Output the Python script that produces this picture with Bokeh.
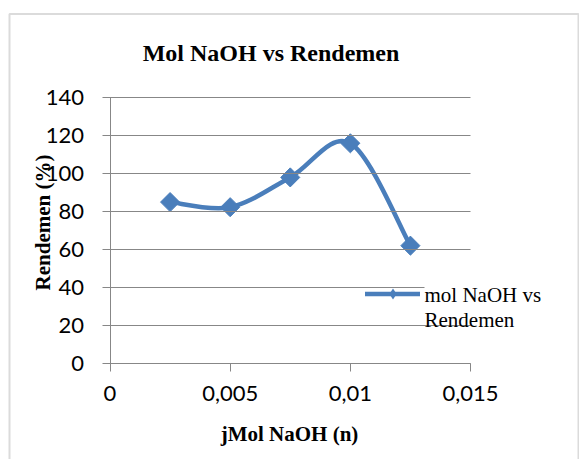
import numpy as np
from bokeh.plotting import figure
from bokeh.models import (Range1d, FixedTicker, Label, Legend, LegendItem, BoxAnnotation)
from bokeh.embed import file_html
from bokeh.resources import INLINE

# ---- data ----
mol_naoh = [0.0025, 0.005, 0.0075, 0.01, 0.0125]
rendemen = [85.0, 82.3, 98.0, 116.0, 62.0]
x_ticks = [0, 0.005, 0.01, 0.015]
x_tick_labels = ["0", "0,005", "0,01", "0,015"]
y_ticks = [0, 20, 40, 60, 80, 100, 120, 140]
title_text = "Mol NaOH vs Rendemen"
x_label = "jMol NaOH (n)"
y_label = "Rendemen (%)"
series_name = ["mol NaOH vs", "Rendemen"]

BLUE = "#4A7EBB"
GRID = "#878787"

# ---- layout (pixels) ----
W, H = 579, 459
PX0, PX1 = 109.5, 470.0      # plot area left / right
PY0, PY1 = 362.7, 97.3       # plot area bottom / top (from top)
XMIN, XMAX = x_ticks[0], x_ticks[-1]
YMIN, YMAX = y_ticks[0], y_ticks[-1]
kx = (XMAX - XMIN) / (PX1 - PX0)
ky = (YMAX - YMIN) / (PY0 - PY1)
x_range = Range1d(XMIN - PX0 * kx, XMAX + (W - PX1) * kx)
y_range = Range1d(YMIN - (H - PY0) * ky, YMAX + PY1 * ky)

p = figure(width=W, height=H, output_backend="svg", toolbar_location=None,
           x_range=x_range, y_range=y_range,
           min_border_left=0, min_border_right=0, min_border_top=0, min_border_bottom=0)
p.outline_line_color = None
p.background_fill_color = "white"
p.border_fill_color = "white"
p.xgrid.visible = False
p.ygrid.visible = False

# axes drawn at the data origin; y ticks run across the plot as gridlines
for ax in (p.xaxis[0], p.yaxis[0]):
    ax.fixed_location = 0
    ax.axis_line_color = GRID
    ax.major_tick_line_color = GRID
    ax.minor_tick_line_color = None
    ax.major_tick_out = 8
    ax.major_label_text_font = "Lato"
    ax.major_label_text_font_size = "22px"
    ax.major_label_text_color = "black"

p.xaxis.ticker = FixedTicker(ticks=x_ticks)
p.xaxis.bounds = (XMIN, XMAX)
p.xaxis.major_tick_in = 0
p.xaxis.major_label_overrides = {t: l for t, l in zip(x_ticks, x_tick_labels)}
p.xaxis.major_label_standoff = 15
p.yaxis.ticker = FixedTicker(ticks=y_ticks)
p.yaxis.bounds = (YMIN, YMAX)
p.yaxis.major_tick_in = int(round(PX1 - PX0))
p.yaxis.major_label_standoff = 18

# smoothed line (Catmull-Rom style Bezier through the data points)
xs = np.array(mol_naoh)
ys = np.array(rendemen)
n = len(xs)
x0, y0, x1, y1, cx0, cy0, cx1, cy1 = [], [], [], [], [], [], [], []
for i in range(n - 1):
    pa = (xs[max(i - 1, 0)], ys[max(i - 1, 0)])
    pb = (xs[i], ys[i])
    pc = (xs[i + 1], ys[i + 1])
    pd = (xs[min(i + 2, n - 1)], ys[min(i + 2, n - 1)])
    x0.append(pb[0]); y0.append(pb[1]); x1.append(pc[0]); y1.append(pc[1])
    cx0.append(pb[0] + (pc[0] - pa[0]) / 6); cy0.append(pb[1] + (pc[1] - pa[1]) / 6)
    cx1.append(pc[0] - (pd[0] - pb[0]) / 6); cy1.append(pc[1] - (pd[1] - pb[1]) / 6)

line_r = p.bezier(x0=x0, y0=y0, x1=x1, y1=y1, cx0=cx0, cy0=cy0, cx1=cx1, cy1=cy1,
                  line_color=BLUE, line_width=4.5, line_cap="round")
mark_r = p.scatter(mol_naoh, rendemen, marker="square", size=13.5, angle=np.pi / 4,
                   fill_color=BLUE, line_color=BLUE)
# zero-size diamonds: invisible in the plot, used only for the legend sample
legend_mark = p.scatter(mol_naoh, rendemen, marker="diamond", size=0,
                        fill_color=BLUE, line_color=None)

# legend sample
GH = 27
legend = Legend(items=[LegendItem(label=" ", renderers=[line_r, legend_mark])],
                location=(365, H - 293 - GH / 2), padding=0, margin=0, spacing=0,
                glyph_width=55, glyph_height=GH, label_height=GH, label_width=0,
                label_standoff=0, label_text_font_size="1px",
                border_line_alpha=0, background_fill_alpha=0)
p.add_layout(legend, "center")

# texts
p.add_layout(Label(x=424, y=H - 294, x_units="screen", y_units="screen", text=series_name[0],
                   text_font="Liberation Serif", text_font_size="21px", text_baseline="alphabetic",
                   text_color="black", background_fill_color="white"))
p.add_layout(Label(x=424, y=H - 319, x_units="screen", y_units="screen", text=series_name[1],
                   text_font="Liberation Serif", text_font_size="21px", text_baseline="alphabetic",
                   text_color="black"))
p.add_layout(Label(x=270.5, y=H - 52, x_units="screen", y_units="screen", text=title_text,
                   text_font="Liberation Serif", text_font_style="bold", text_font_size="24px",
                   text_color="black", text_align="center", text_baseline="alphabetic"))
p.add_layout(Label(x=289, y=H - 433, x_units="screen", y_units="screen", text=x_label,
                   text_font="Liberation Serif", text_font_style="bold", text_font_size="21px",
                   text_color="black", text_align="center", text_baseline="alphabetic"))
p.add_layout(Label(x=42.5, y=H - 222, x_units="screen", y_units="screen", text=y_label,
                   angle=np.pi / 2, text_color="black",
                   text_font="Liberation Serif", text_font_style="bold", text_font_size="21px",
                   text_align="center", text_baseline="middle"))

# chart border
p.add_layout(BoxAnnotation(left=9, right=578, top=H - 13.5, bottom=-50,
                           left_units="screen", right_units="screen",
                           top_units="screen", bottom_units="screen",
                           fill_alpha=0, line_color="#898989", line_width=2))

open("out.html", "w").write(file_html(p, INLINE))
